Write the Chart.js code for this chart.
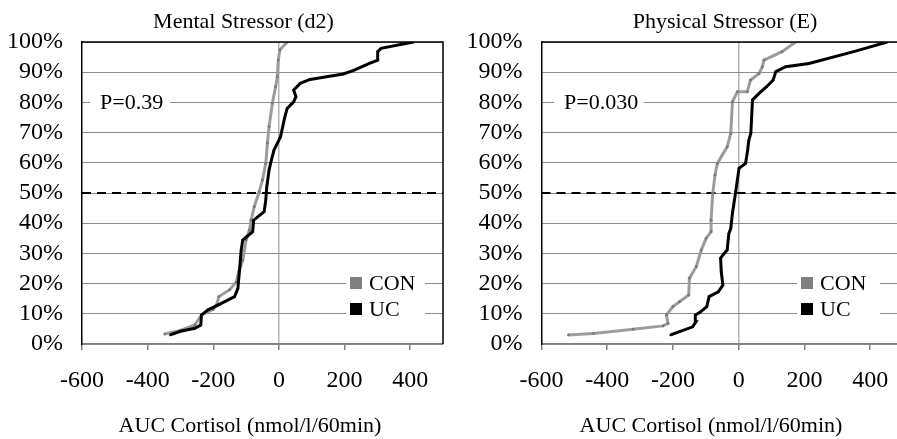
<!DOCTYPE html>
<html>
<head>
<meta charset="utf-8">
<script src="https://cdn.jsdelivr.net/npm/chart.js@4.4.1/dist/chart.umd.min.js"></script>
<style>
  html, body { margin: 0; padding: 0; background: #fff; }
  #wrap { position: relative; width: 897px; height: 439px; overflow: hidden; }
  .panel { position: absolute; top: 0; height: 439px; overflow: hidden; }
  #p1 { left: 0; width: 447px; }
  #p2 { left: 447px; width: 450px; }
</style>
</head>
<body>
<div id="wrap">
  <div class="panel" id="p1"><canvas id="mental" width="447" height="439"></canvas></div>
  <div class="panel" id="p2"><canvas id="physical" width="460" height="439"></canvas></div>
</div>
<script>
// categories / labels
const seriesNames = ['CON', 'UC'];
const xTickValues = [-600, -400, -200, 0, 200, 400];
const yTickValues = [0, 10, 20, 30, 40, 50, 60, 70, 80, 90, 100];

// Mental stressor (d2) - AUC cortisol vs cumulative %
const mentalConX = [-348, -300, -256, -236, -200, -190, -183, -150, -130, -122, -110, -100, -90, -85, -75, -60, -50, -40, -35, -30, -20, -10, -5, -2, 3, 25];
const mentalConY = [3.3, 4.5, 6.3, 9.6, 11.5, 12.9, 15.7, 18, 20.5, 24, 27.8, 34.4, 37.7, 41, 45.5, 50.4, 54.3, 59.8, 66.5, 72, 79.7, 85.2, 88.5, 94, 97.4, 100];
const mentalUcX = [-331, -300, -256, -238, -236, -216, -186, -135, -125, -120, -115, -110, -80, -77, -45, -40, -37, -30, -25, -15, 5, 17, 25, 45, 52, 45, 65, 95, 196, 226, 276, 301, 301, 311, 410];
const mentalUcY = [3.0, 4.2, 5.2, 6.3, 9.6, 11.3, 12.9, 15.7, 18.4, 24.5, 31.1, 34.4, 37.2, 41, 43.8, 47.7, 52, 57.6, 60, 64.2, 68.6, 74.7, 78, 80.2, 81.9, 84.1, 86.3, 87.6, 89.4, 90.5, 92.9, 94, 96.8, 97.9, 100];

// Physical stressor (E)
const physConX = [-518, -442, -321, -230, -215, -220, -200, -180, -152, -150, -129, -114, -99, -84, -84, -79, -72, -65, -35, -24, -19, -4, 26, 36, 62, 72, 77, 132, 173];
const physConY = [3.0, 3.5, 4.9, 6.0, 6.8, 9.6, 12.4, 14, 16.2, 21.8, 25.6, 31.1, 35, 37.2, 41, 49.9, 56, 59.8, 65.3, 69.8, 80.2, 83.5, 83.5, 87.4, 89.6, 91.8, 94, 96.8, 100];
const physUcX = [-207, -180, -140, -130, -132, -119, -97, -90, -62, -48, -53, -55, -48, -35, -30, -24, -19, -9, 1, 21, 27, 31, 37, 42, 62, 85, 105, 113, 143, 214, 350, 452];
const physUcY = [3.0, 4.1, 5.7, 7.4, 9.6, 10.4, 12.4, 15.7, 17.3, 19.5, 23.9, 28.4, 29.5, 31.1, 36.5, 38.3, 43.3, 50.4, 58.2, 59.8, 64, 67.5, 69.8, 80.8, 83, 85.2, 87.4, 90.2, 91.8, 92.9, 96.8, 100];

// 50% reference line
const refX = [-600, 500];
const refY = [50, 50];

const FONT = '"Liberation Serif", "Times New Roman", serif';
Chart.defaults.font.family = FONT;
Chart.defaults.color = '#000';

function pts(xs, ys) {
    return xs.map(function(x, i) { return { x: x, y: ys[i] }; });
}

// titles, P value, legend and box border drawn on the canvas
const decorPlugin = {
    id: 'decor',
    afterDraw: function(chart, args, o) {
        const ctx = chart.ctx;
        const a = chart.chartArea;
        const ys = chart.scales.y;
        ctx.save();

        // black frame: top and right
        ctx.strokeStyle = '#000';
        ctx.lineWidth = 1.5;
        ctx.beginPath();
        ctx.moveTo(a.left, a.top);
        ctx.lineTo(a.right, a.top);
        ctx.lineTo(a.right, a.bottom);
        ctx.stroke();

        ctx.fillStyle = '#000';
        ctx.font = '22px ' + FONT;
        ctx.textBaseline = 'middle';
        ctx.textAlign = 'center';
        ctx.fillText(o.title, o.titleX, 22);
        ctx.fillText('AUC Cortisol (nmol/l/60min)', o.axisX, 426);

        // P value box
        const py = ys.getPixelForValue(80);
        ctx.fillStyle = '#fff';
        ctx.fillRect(o.pBox[0], py - 12, o.pBox[1] - o.pBox[0], 24);
        ctx.fillStyle = '#000';
        ctx.textAlign = 'left';
        ctx.fillText(o.pText, o.pBox[0] + 10, py + 1);

        // legend
        ctx.fillStyle = '#fff';
        ctx.fillRect(o.legX - 4, 270, o.legW, 52);
        const colors = ['#808080', '#000'];
        const rows = [283, 309];
        seriesNames.forEach(function(name, i) {
            ctx.fillStyle = colors[i];
            ctx.fillRect(o.legX, rows[i] - 6, 12, 12);
            ctx.fillStyle = '#000';
            ctx.fillText(name, o.legX + 19, rows[i] + 1);
        });
        ctx.restore();
    }
};

function makePanel(id, conX, conY, ucX, ucY, yWidth, padRight, decor) {
    new Chart(document.getElementById(id), {
        type: 'scatter',
        data: {
            datasets: [
                {
                    label: 'UC', data: pts(ucX, ucY), showLine: true,
                    borderColor: '#000', backgroundColor: '#000', borderWidth: 3,
                    pointRadius: 1.2, pointBorderWidth: 0, order: 0
                },
                {
                    label: 'CON', data: pts(conX, conY), showLine: true,
                    borderColor: '#9c9c9c', backgroundColor: '#777', borderWidth: 3,
                    pointRadius: 1.4, pointBorderWidth: 0, order: 1
                },
                {
                    label: 'ref', data: pts(refX, refY), showLine: true,
                    borderColor: '#000', borderWidth: 1.8, borderDash: [9, 6],
                    pointRadius: 0, order: 2
                }
            ]
        },
        options: {
            responsive: false,
            animation: false,
            layout: { padding: { top: 42, right: padRight, left: 0, bottom: 0 } },
            plugins: { legend: { display: false }, tooltip: { enabled: false }, decor: decor },
            scales: {
                x: {
                    type: 'linear', min: -600, max: 500,
                    afterBuildTicks: function(s) { s.ticks = xTickValues.map(function(v) { return { value: v }; }); },
                    afterFit: function(s) { s.height = 95; },
                    ticks: { font: { size: 24 }, padding: 16, maxRotation: 0, autoSkip: false },
                    grid: {
                        color: function(c) { return c.tick && c.tick.value === 0 ? '#b4b4b4' : 'rgba(0,0,0,0)'; },
                        lineWidth: 1.5, tickColor: '#808080', tickLength: 6
                    },
                    border: { color: '#808080', width: 1.5 }
                },
                y: {
                    min: 0, max: 100,
                    afterBuildTicks: function(s) { s.ticks = yTickValues.map(function(v) { return { value: v }; }); },
                    afterFit: function(s) { s.width = yWidth; },
                    ticks: { font: { size: 24 }, padding: 19, autoSkip: false, callback: function(v) { return v + '%'; } },
                    grid: { color: '#8c8c8c', lineWidth: 1, drawTicks: false },
                    border: { color: '#000', width: 1.5 }
                }
            }
        },
        plugins: [decorPlugin]
    });
}

makePanel('mental', mentalConX, mentalConY, mentalUcX, mentalUcY, 82, 1, {
    title: 'Mental Stressor (d2)', titleX: 243.5, axisX: 250,
    pText: 'P=0.39', pBox: [90, 170], legX: 350, legW: 79
});
makePanel('physical', physConX, physConY, physUcX, physUcY, 94.5, 1.5, {
    title: 'Physical Stressor (E)', titleX: 278, axisX: 264,
    pText: 'P=0.030', pBox: [107, 197], legX: 354, legW: 83
});
</script>
</body>
</html>
